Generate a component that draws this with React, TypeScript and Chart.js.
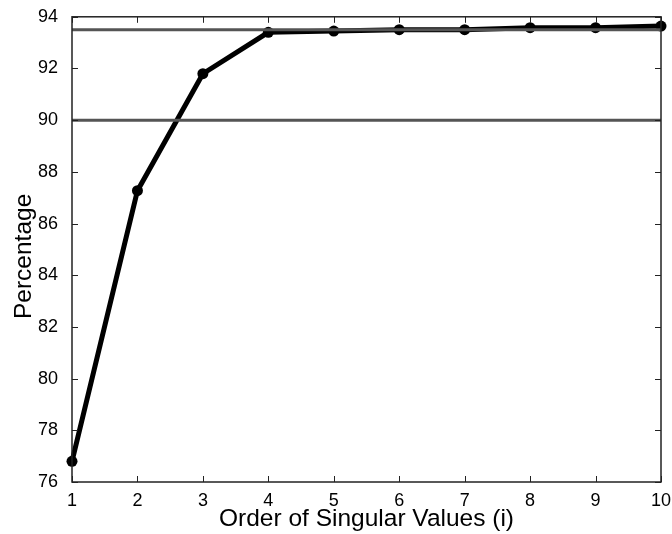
import React, { useEffect, useRef } from "react";
import { Chart, registerables } from "chart.js";

Chart.register(...registerables);

const orders = [1, 2, 3, 4, 5, 6, 7, 8, 9, 10];
const percentages = [76.8, 87.27, 91.8, 93.4, 93.45, 93.5, 93.5, 93.58, 93.58, 93.64];
const thresholdHigh = 93.5;
const thresholdLow = 90;
const xTitle = "Order of Singular Values (i)";
const yTitle = "Percentage";

const FONT = "'Liberation Sans', Arial, Helvetica, sans-serif";

const boxPlugin = {
  id: "matlabBox",
  afterDatasetsDraw(chart: any) {
    const { ctx, chartArea, scales } = chart;
    const { left, right, top, bottom } = chartArea;
    ctx.save();
    ctx.strokeStyle = "#222";
    ctx.lineWidth = 1.5;
    ctx.strokeRect(left, top, right - left, bottom - top);
    ctx.lineWidth = 1;
    const tl = 6;
    ctx.beginPath();
    scales.x.ticks.forEach((t: any) => {
      const px = Math.round(scales.x.getPixelForValue(t.value)) + 0.5;
      ctx.moveTo(px, bottom);
      ctx.lineTo(px, bottom - tl);
      ctx.moveTo(px, top);
      ctx.lineTo(px, top + tl);
    });
    scales.y.ticks.forEach((t: any) => {
      const py = Math.round(scales.y.getPixelForValue(t.value)) + 0.5;
      ctx.moveTo(left, py);
      ctx.lineTo(left + tl, py);
      ctx.moveTo(right, py);
      ctx.lineTo(right - tl, py);
    });
    ctx.stroke();
    // y-axis title, placed like the original figure
    const cy = (top + bottom) / 2 + 7;
    ctx.translate(24, cy);
    ctx.rotate(-Math.PI / 2);
    ctx.fillStyle = "#000";
    ctx.font = `24.5px ${FONT}`;
    ctx.textAlign = "center";
    ctx.textBaseline = "middle";
    ctx.fillText(yTitle, 0, 0);
    ctx.restore();
  },
};

export default function App() {
  const ref = useRef<HTMLCanvasElement>(null);
  useEffect(() => {
    if (!ref.current) return;
    const dataPts = orders.map((x, i) => ({ x, y: percentages[i] }));
    const hi = [{ x: orders[0], y: thresholdHigh }, { x: orders[orders.length - 1], y: thresholdHigh }];
    const lo = [{ x: orders[0], y: thresholdLow }, { x: orders[orders.length - 1], y: thresholdLow }];
    const chart = new Chart(ref.current, {
      type: "line",
      data: {
        datasets: [
          {
            data: hi,
            borderColor: "#555555",
            borderWidth: 3,
            pointRadius: 0,
            order: 0,
          },
          {
            data: lo,
            borderColor: "#555555",
            borderWidth: 3,
            pointRadius: 0,
            order: 0,
          },
          {
            data: dataPts,
            borderColor: "#000000",
            backgroundColor: "#000000",
            borderWidth: 5,
            pointRadius: 5.5,
            pointBackgroundColor: "#000000",
            pointBorderColor: "#000000",
            pointBorderWidth: 0,
            clip: false,
            order: 1,
          },
        ],
      },
      options: {
        animation: false,
        responsive: false,
        maintainAspectRatio: false,
        layout: { padding: { top: 16, right: 11, left: 0, bottom: 0 } },
        plugins: {
          legend: { display: false },
          tooltip: { enabled: false },
        },
        elements: { line: { tension: 0 } },
        scales: {
          x: {
            type: "linear",
            min: 1,
            max: 10,
            ticks: {
              stepSize: 1,
              color: "#000",
              font: { family: FONT, size: 18 },
              padding: 0,
              maxRotation: 0,
            },
            grid: { display: false },
            border: { display: false },
            title: {
              display: true,
              text: xTitle,
              color: "#000",
              font: { family: FONT, size: 24.5 },
              padding: { top: 0, bottom: 0 },
            },
            afterFit(scale: any) {
              scale.height = 52;
            },
          },
          y: {
            type: "linear",
            min: 76,
            max: 94,
            ticks: {
              stepSize: 2,
              color: "#000",
              font: { family: FONT, size: 18 },
              padding: 6,
            },
            grid: { display: false },
            border: { display: false },
            title: { display: false },
            afterFit(scale: any) {
              scale.width = 72;
            },
          },
        },
      },
      plugins: [boxPlugin],
    });
    return () => chart.destroy();
  }, []);
  return (
    <div style={{ position: "fixed", left: 0, top: 0, width: 672, height: 534, background: "#fff" }}>
      <canvas ref={ref} width={672} height={534} />
    </div>
  );
}
